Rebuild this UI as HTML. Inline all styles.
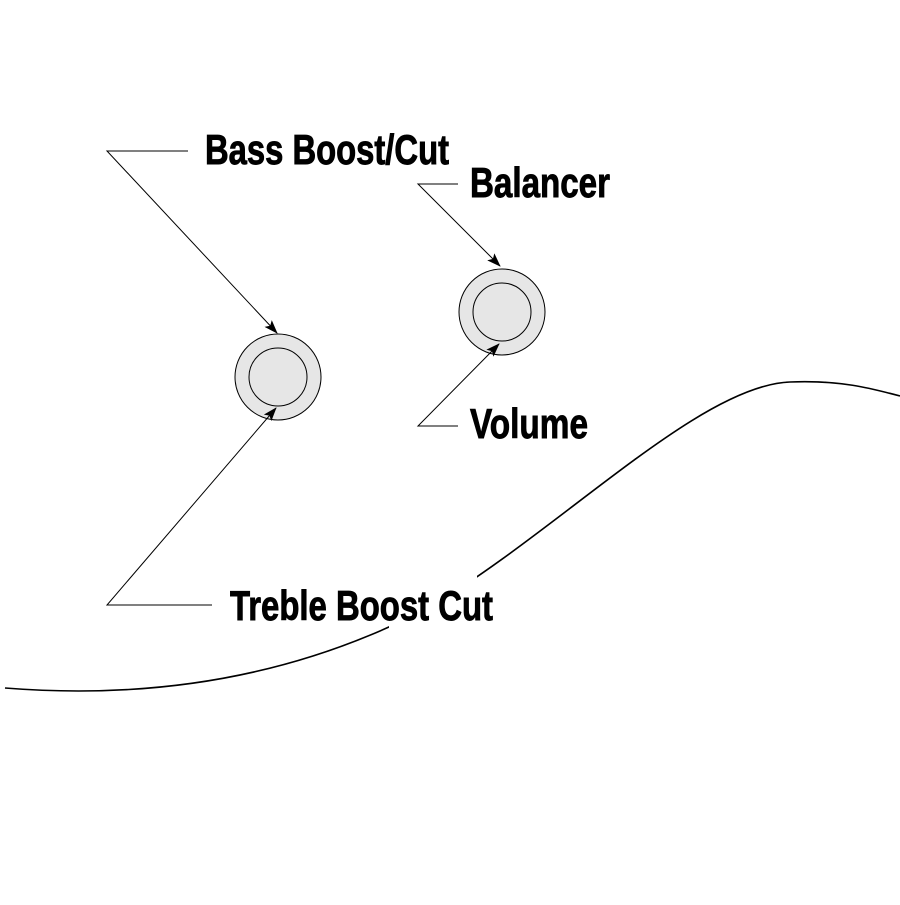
<!DOCTYPE html>
<html><head><meta charset="utf-8"><style>html,body{margin:0;padding:0;background:#fff}</style></head>
<body>
<svg width="900" height="900" viewBox="0 0 900 900" xmlns="http://www.w3.org/2000/svg">
<defs>
<marker id="a" markerWidth="14" markerHeight="10" refX="13" refY="5" orient="auto" markerUnits="userSpaceOnUse">
<path d="M0,0 L14,5 L0,10 L3,5 Z" fill="#000"/>
</marker>
</defs>
<path d="M5,688 C180,702 320,665 430,607 C560,530 700,385 790,382 C840,380 870,388 900,396" fill="none" stroke="#000" stroke-width="1.6"/>
<rect x="389" y="560" width="88" height="80" fill="#fff"/>
<g fill="#e6e6e6" stroke="#000" stroke-width="1">
<circle cx="278" cy="377" r="43"/><circle cx="278" cy="377" r="29"/>
<circle cx="502" cy="312" r="43"/><circle cx="502" cy="312" r="29"/>
</g>
<g stroke="#000" stroke-width="1" fill="none">
<polyline points="188,151 107,151 277,333" marker-end="url(#a)"/>
<polyline points="458,184 418,184 500,266" marker-end="url(#a)"/>
<polyline points="458,426 418,426 499,344" marker-end="url(#a)"/>
<polyline points="212,605 107,605 276,408" marker-end="url(#a)"/>
</g>
<g font-family="Liberation Sans, sans-serif" font-weight="bold" font-size="42" fill="#000" stroke="#000" stroke-width="0.9">
<text x="205" y="164" textLength="244" lengthAdjust="spacingAndGlyphs">Bass Boost/Cut</text>
<text x="470" y="197" textLength="140" lengthAdjust="spacingAndGlyphs">Balancer</text>
<text x="470" y="438" textLength="118" lengthAdjust="spacingAndGlyphs">Volume</text>
<text x="230" y="620" textLength="263" lengthAdjust="spacingAndGlyphs">Treble Boost Cut</text>
</g>
</svg>
</body></html>
